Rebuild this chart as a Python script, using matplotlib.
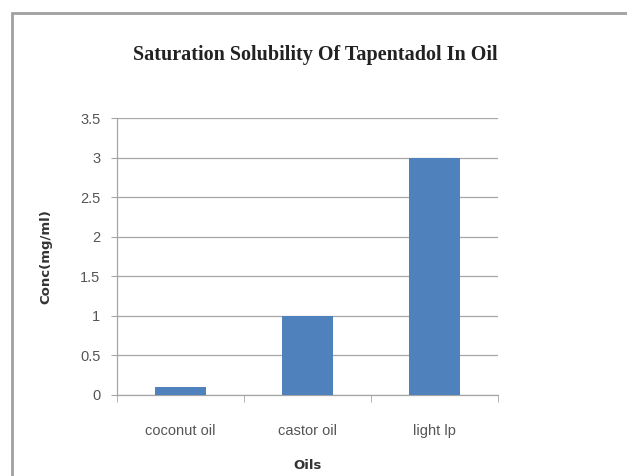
import matplotlib.pyplot as plt
from matplotlib.patches import Rectangle

# Data
oils = ['coconut oil', 'castor oil', 'light lp']
conc = [0.1, 1.0, 3.0]
y_ticks = [0, 0.5, 1, 1.5, 2, 2.5, 3, 3.5]
y_tick_labels = ['0', '0.5', '1', '1.5', '2', '2.5', '3', '3.5']

fig = plt.figure(figsize=(6.27, 4.76), dpi=100)

# outer chart-area border (runs off the right and bottom edges)
fig.patches.append(Rectangle((12 / 627, -0.05), 1.0, 1 - 13 / 476 + 0.05,
                             transform=fig.transFigure, fill=False,
                             edgecolor='#a0a0a0', linewidth=2.0))

ax = fig.add_axes([117 / 627, 81 / 476, 381 / 627, 277 / 476])

x = list(range(len(oils)))
ax.bar(x, conc, width=0.4, color='#4F81BD', zorder=3)

ax.set_xlim(-0.5, len(oils) - 0.5)
ax.set_ylim(0, 3.5)
ax.set_yticks(y_ticks)
ax.set_yticklabels(y_tick_labels)
ax.set_xticks(x)
ax.set_xticklabels(oils)
ax.set_xticks([i - 0.5 for i in range(len(oils) + 1)], minor=True)

ax.grid(axis='y', color='#a6a6a6', linewidth=0.9, zorder=0)
for s in ['top', 'right']:
    ax.spines[s].set_visible(False)
for s in ['left', 'bottom']:
    ax.spines[s].set_color('#a6a6a6')
    ax.spines[s].set_linewidth(0.9)

ax.tick_params(axis='y', length=4, color='#a6a6a6', labelsize=10.5,
               labelcolor='#555555', pad=8)
ax.tick_params(axis='x', which='major', length=0, labelsize=10.5,
               labelcolor='#555555', pad=21)
ax.tick_params(axis='x', which='minor', length=5, color='#a6a6a6')

for lab in ax.get_xticklabels() + ax.get_yticklabels():
    lab.set_family(['Liberation Sans Narrow', 'Liberation Sans'])

ax.set_xlabel('Oils', fontsize=9.5, fontweight='bold', color='#333333',
              labelpad=15)
ax.set_ylabel('Conc(mg/ml)', fontsize=9.5, fontweight='bold', color='#333333',
              labelpad=20)

fig.text(315 / 627, 1 - 55 / 476, 'Saturation Solubility Of Tapentadol In Oil',
         ha='center', va='center', family='Liberation Serif',
         fontweight='bold', fontsize=14.5, color='#222222')

fig.savefig('out.png', dpi=100)
